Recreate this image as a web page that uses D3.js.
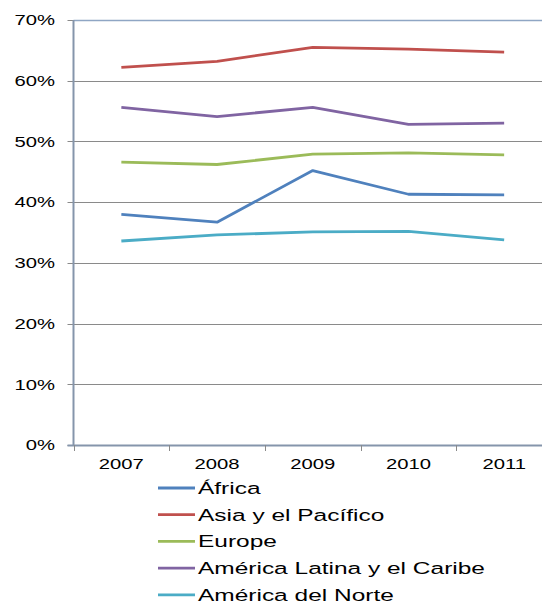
<!DOCTYPE html>
<html>
<head>
<meta charset="utf-8">
<script src="https://cdn.jsdelivr.net/npm/d3@7"></script>
<style>
  html, body { margin: 0; padding: 0; background: #fff; overflow: hidden; }
  svg { display: block; }
  text { font-family: "Liberation Sans", Arial, sans-serif; fill: #000; }
</style>
</head>
<body>
<svg id="chart" width="542" height="603"></svg>
<script>
const years = ["2007", "2008", "2009", "2010", "2011"];
const seriesNames = ["África", "Asia y el Pacífico", "Europe", "América Latina y el Caribe", "América del Norte"];
const africa = [0.380, 0.367, 0.452, 0.413, 0.412];
const asiaPacifico = [0.622, 0.632, 0.655, 0.652, 0.647];
const europe = [0.466, 0.462, 0.479, 0.481, 0.478];
const americaLatina = [0.556, 0.541, 0.556, 0.528, 0.530];
const americaNorte = [0.336, 0.346, 0.351, 0.352, 0.338];
const yTicks = [0, 0.1, 0.2, 0.3, 0.4, 0.5, 0.6, 0.7];
const colors = ["#4F81BD", "#C0504D", "#9BBB59", "#8064A2", "#4BACC6"];

const seriesValues = [africa, asiaPacifico, europe, americaLatina, americaNorte];
const series = seriesNames.map((n, i) => ({ name: n, values: seriesValues[i], color: colors[i] }));

const svg = d3.select("#chart");
const plotLeft = 73.5, plotTop = 20, plotBottom = 445, plotRight = 552;
const sx = 1.35;

const x = d3.scaleBand().domain(years).range([plotLeft, plotRight]).padding(0);
const y = d3.scaleLinear().domain([0, 0.7]).range([plotBottom, plotTop]);

// gridlines
svg.append("g").selectAll("line").data(yTicks.filter(t => t > 0 && t < 0.7)).join("line")
  .attr("x1", plotLeft).attr("x2", 542)
  .attr("y1", d => Math.round(y(d)) + 0.5).attr("y2", d => Math.round(y(d)) + 0.5)
  .attr("stroke", "#8a8a8a").attr("stroke-width", 1);

// top border line
svg.append("line").attr("x1", plotLeft).attr("x2", 542)
  .attr("y1", Math.round(y(0.7)) + 0.5).attr("y2", Math.round(y(0.7)) + 0.5)
  .attr("stroke", "#8FA6C4").attr("stroke-width", 1.5);

// y ticks (left)
svg.append("g").selectAll("line").data(yTicks).join("line")
  .attr("x1", plotLeft - 6).attr("x2", plotLeft)
  .attr("y1", d => Math.round(y(d)) + 0.5).attr("y2", d => Math.round(y(d)) + 0.5)
  .attr("stroke", "#8a8a8a").attr("stroke-width", 1);

// y axis line
svg.append("line").attr("x1", plotLeft).attr("x2", plotLeft).attr("y1", plotTop).attr("y2", plotBottom + 1)
  .attr("stroke", "#8595AB").attr("stroke-width", 2);

// x axis line
svg.append("line").attr("x1", plotLeft - 6).attr("x2", 542).attr("y1", plotBottom + 0.5).attr("y2", plotBottom + 0.5)
  .attr("stroke", "#8595AB").attr("stroke-width", 2);

// x ticks at band boundaries
const bounds = years.map(yr => x(yr)).concat([x(years[years.length - 1]) + x.bandwidth()]);
svg.append("g").selectAll("line").data(bounds).join("line")
  .attr("x1", d => Math.round(d) + 0.5).attr("x2", d => Math.round(d) + 0.5)
  .attr("y1", plotBottom).attr("y2", plotBottom + 6)
  .attr("stroke", "#8a8a8a").attr("stroke-width", 1);

// y labels
svg.append("g").selectAll("text").data(yTicks).join("text")
  .attr("transform", d => `translate(55,${y(d) + 5.3}) scale(${sx},1)`)
  .attr("text-anchor", "end").attr("font-size", 15)
  .text(d => Math.round(d * 100) + "%");

// x labels
svg.append("g").selectAll("text").data(years).join("text")
  .attr("transform", d => `translate(${x(d) + x.bandwidth() / 2},469) scale(${sx},1)`)
  .attr("text-anchor", "middle").attr("font-size", 15)
  .text(d => d);

// lines
const line = d3.line().x((d, i) => x(years[i]) + x.bandwidth() / 2).y(d => y(d));
svg.append("g").selectAll("path").data(series).join("path")
  .attr("d", d => line(d.values))
  .attr("fill", "none").attr("stroke", d => d.color).attr("stroke-width", 2.8)
  .attr("stroke-linejoin", "round");

// legend
const lg = svg.append("g").selectAll("g").data(series).join("g")
  .attr("transform", (d, i) => `translate(158,${488 + i * 26.7})`);
lg.append("line").attr("x1", 0).attr("x2", 37).attr("y1", 0).attr("y2", 0)
  .attr("stroke", d => d.color).attr("stroke-width", 2.8);
lg.append("text").attr("transform", "translate(40,6) scale(1.44,1)")
  .attr("font-size", 17).text(d => d.name);
</script>
</body>
</html>
